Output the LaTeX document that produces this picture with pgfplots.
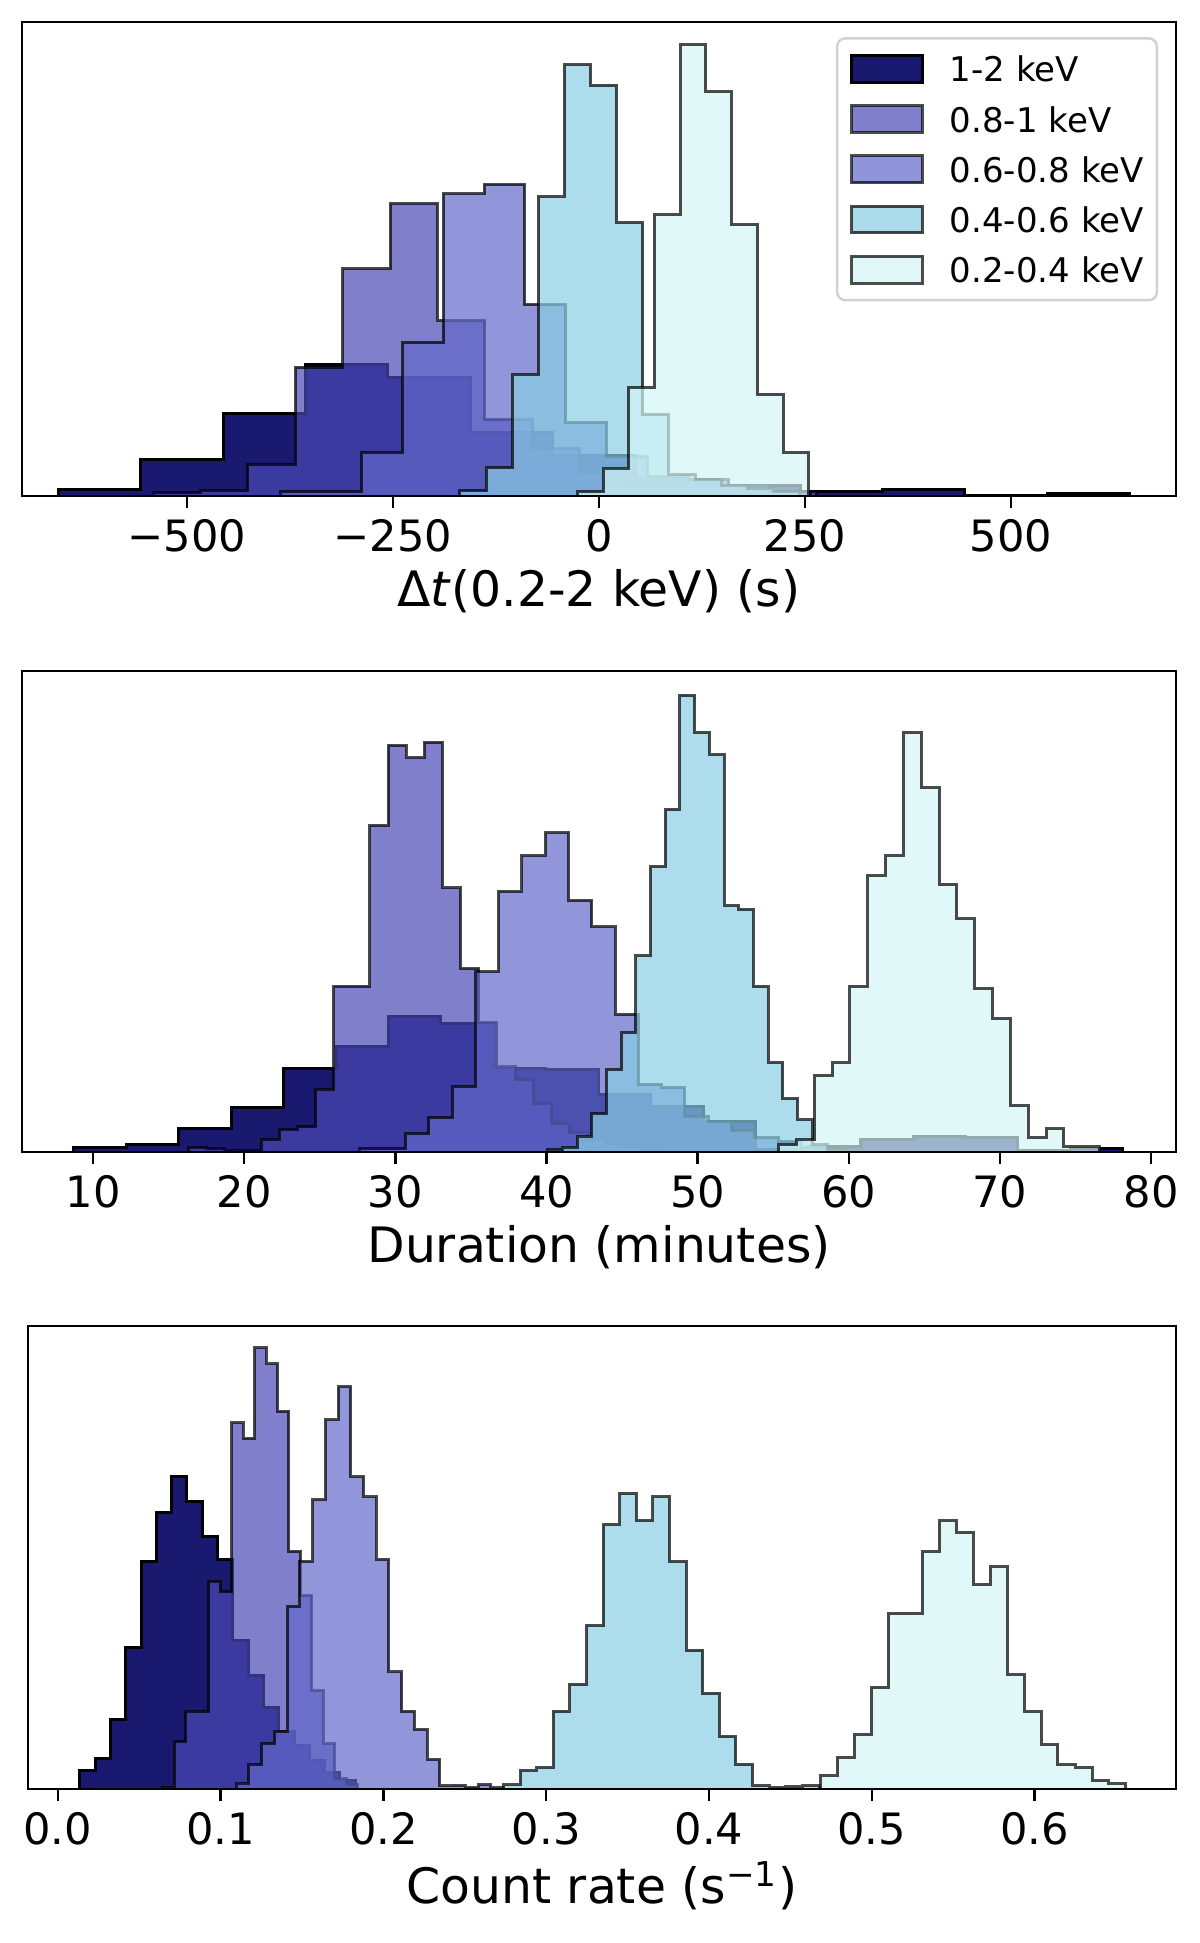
\documentclass[border=0pt]{standalone}
\usepackage{fontspec}
\setmainfont{DejaVu Sans}
\usepackage{pgfplots}
\pgfplotsset{compat=1.18}

\definecolor{c12}{HTML}{191970}
\definecolor{c081}{HTML}{4949B6}
\definecolor{c0608}{HTML}{6269CA}
\definecolor{c0406}{HTML}{8ACEE5}
\definecolor{c0204}{HTML}{D3F5F5}

\pgfplotsset{
  panel/.style={
    scale only axis, anchor=north west,
    ymin=0, ymax=100, ytick=\empty,
    axis line style={line width=0.6pt},
    xtick pos=bottom, tick align=outside,
    major tick length=3pt, tick style={line width=0.6pt, black},
    xticklabel style={font=\fontsize{10.8}{12}\selectfont, yshift=0.7pt},
    xlabel style={font=\fontsize{12.2}{14}\selectfont, at={(axis description cs:0.5,0)}, anchor=base, yshift=-27.6pt},
    axis on top,
  },
  hdark/.style={const plot, no markers, line width=0.75pt, fill=c12, draw=black},
  hsoft/.style={const plot, no markers, line width=0.75pt, fill=#1, draw=black, fill opacity=0.7, draw opacity=0.7},
}

\begin{document}
\begin{tikzpicture}
\useasboundingbox (0,0) rectangle (300pt,-485.75pt);

% time lag
\begin{axis}[panel, at={(5.5pt,-5.5pt)}, width=288.5pt, height=118.5pt,
  xmin=-700, xmax=700,
  xtick={-500,-250,0,250,500}, xticklabels={−500,−250,0,250,500},
  xlabel={Δ\textit{t}(0.2-2 keV) (s)},
  legend style={at={(rel axis cs:0.9845,0.968)}, anchor=north east,
    draw=black!18, line width=0.6pt, rounded corners=2pt,
    fill=white,
    font=\fontsize{8.5}{10}\selectfont,
    inner xsep=3.3pt, inner ysep=3.9pt, row sep=5.1pt,
    nodes={inner sep=0pt, text height=6.3pt, text depth=0pt},
    /tikz/every odd column/.append style={column sep=6.5pt}},
  legend cell align=left,
  legend image code/.code={\draw[#1, sharp corners, line width=0.75pt] (0pt,-3.25pt) rectangle (17.6pt,3.45pt);},
]
\addplot[hdark] coordinates {(-656,1.4)(-556,7.8)(-456,17.4)(-356,27.7)(-256,25.0)(-156,13.4)(-56,8.5)(44,3.5)(144,2.3)(244,0.9)(344,1.4)(444,0.2)(544,0.6)(644,0.6)} \closedcycle;
\addplot[hsoft=c081] coordinates {(-541,0.7)(-483.5,1.2)(-426,6.7)(-368.5,27.2)(-311,48.0)(-253.5,61.7)(-196,37.0)(-138.5,16.2)(-81,10.0)(-23.5,5.0)(34,2.5)(91.5,3.0)(149,2.3)(206.5,0.9)(264,0.9)} \closedcycle;
\addplot[hsoft=c0608] coordinates {(-387,0.9)(-337.5,0.9)(-288,9.2)(-238.5,32.4)(-189,63.8)(-139.5,65.8)(-90,40.5)(-40.5,15.5)(9,8.4)(58.5,4.1)(108,3.4)(157.5,2.3)(207,0.9)(256.5,0.9)} \closedcycle;
\addplot[hsoft=c0406] coordinates {(-168.7,1.1)(-137,6.0)(-105.3,25.7)(-73.6,63.1)(-41.9,91.0)(-10.2,86.7)(21.5,57.6)(53.2,17.2)(84.9,4.5)(116.6,3.4)(148.3,2.3)(180,1.6)(211.7,0.9)(243.4,0.9)} \closedcycle;
\addplot[hsoft=c0204] coordinates {(-26.2,0.9)(5,5.9)(36.2,22.9)(67.4,59.4)(98.6,95.3)(129.8,85.3)(161,57.3)(192.2,21.5)(223.4,9.1)(254.6,9.1)} \closedcycle;
\legend{1-2 keV, 0.8-1 keV, 0.6-0.8 keV, 0.4-0.6 keV, 0.2-0.4 keV}
\end{axis}

% duration
\begin{axis}[panel, at={(5.5pt,-167.75pt)}, width=288.5pt, height=120.25pt,
  xmin=5.3, xmax=81.65,
  xtick={10,20,30,40,50,60,70,80}, xticklabels={10,20,30,40,50,60,70,80},
  xlabel={Duration (minutes)},
]
\addplot[hdark] coordinates {(8.73,1.0)(12.20,1.5)(15.67,4.8)(19.14,9.3)(22.61,17.3)(26.08,21.9)(29.55,28.2)(33.02,26.7)(36.49,17.4)(39.96,17.1)(43.43,11.9)(46.90,9.5)(50.37,6.3)(53.84,0.5)(57.31,1.1)(60.78,2.7)(64.25,3.3)(67.72,3.1)(71.19,0.4)(74.66,0.7)(78.13,0.7)} \closedcycle;
\addplot[hsoft=c081] coordinates {(16.32,0.9)(17.52,0.7)(18.72,0.4)(19.92,0.3)(21.12,2.6)(22.32,4.6)(23.52,5.3)(24.72,13.0)(25.92,34.5)(27.12,34.5)(28.32,67.9)(29.52,84.6)(30.72,82.0)(31.92,85.2)(33.12,54.9)(34.32,38.2)(35.52,27.0)(36.72,17.7)(37.92,15.0)(39.12,10.0)(40.32,6.0)(41.52,4.0)(42.72,2.5)(43.92,1.5)(45.12,1.0)(46.32,0.5)(47.52,0.5)} \closedcycle;
\addplot[hsoft=c0608] coordinates {(27.60,0.7)(29.14,0.7)(30.68,3.9)(32.22,7.1)(33.76,13.7)(35.30,37.5)(36.84,54.2)(38.38,61.6)(39.92,66.4)(41.46,52.3)(43.00,46.8)(44.54,28.6)(46.08,14.1)(47.62,13.4)(49.16,7.4)(50.70,6.3)(52.24,4.5)(53.78,3.0)(55.32,2.2)(56.86,1.0)(58.40,0.6)(59.94,0.6)} \closedcycle;
\addplot[hsoft=c0406] coordinates {(40.07,0.5)(41.04,1.0)(42.02,3.3)(42.99,8.0)(43.96,17.1)(44.94,24.9)(45.91,40.8)(46.88,59.4)(47.85,71.3)(48.83,95.0)(49.80,87.2)(50.77,82.6)(51.75,51.2)(52.72,50.5)(53.69,34.5)(54.67,18.6)(55.64,11.1)(56.61,6.7)(57.58,1.5)(58.56,0.5)(59.53,0.5)} \closedcycle;
\addplot[hsoft=c0204] coordinates {(55.35,1.5)(56.53,2.6)(57.71,16.0)(58.89,18.6)(60.07,34.5)(61.25,57.5)(62.43,61.6)(63.61,87.2)(64.79,75.7)(65.97,55.7)(67.15,48.6)(68.33,34.1)(69.51,27.8)(70.69,9.7)(71.87,3.0)(73.05,4.8)(74.23,1.1)(75.41,1.1)(76.59,1.1)} \closedcycle;
\end{axis}

% count rate
\begin{axis}[panel, at={(7pt,-331.5pt)}, width=287pt, height=115.75pt,
  xmin=-0.0183, xmax=0.6869,
  xtick={0,0.1,0.2,0.3,0.4,0.5,0.6}, xticklabels={0.0,0.1,0.2,0.3,0.4,0.5,0.6},
  xlabel={Count rate (s\textsuperscript{−1})},
  xlabel style={yshift=-1pt},
]
\addplot[hdark] coordinates {(0.0136,4.0)(0.0230,6.6)(0.0324,15.1)(0.0418,30.6)(0.0512,49.2)(0.0606,59.8)(0.0699,67.4)(0.0793,62.1)(0.0887,54.5)(0.0981,49.6)(0.1075,32.1)(0.1169,24.6)(0.1263,17.7)(0.1357,12.4)(0.1451,9.3)(0.1545,6.2)(0.1638,3.5)(0.1732,1.8)(0.1826,1.8)} \closedcycle;
\addplot[hsoft=c081] coordinates {(0.0646,0.4)(0.0716,10.2)(0.0787,16.8)(0.0857,16.8)(0.0928,44.8)(0.0998,42.6)(0.1068,79.1)(0.1139,75.8)(0.1209,95.3)(0.1280,91.8)(0.1350,81.6)(0.1420,51.4)(0.1491,41.9)(0.1561,21.3)(0.1632,9.8)(0.1702,2.2)(0.1772,0.9)(0.1843,0.9)} \closedcycle;
\addplot[hsoft=c0608] coordinates {(0.1096,1.3)(0.1174,5.3)(0.1252,9.8)(0.1331,12.4)(0.1409,39.5)(0.1487,49.2)(0.1565,62.5)(0.1643,79.8)(0.1722,86.9)(0.1800,67.4)(0.1878,63.1)(0.1956,49.6)(0.2034,25.3)(0.2113,16.8)(0.2191,12.9)(0.2269,6.4)(0.2347,0.7)(0.2425,0.8)(0.2504,0.4)(0.2582,0.9)(0.2660,0.3)(0.2738,0.3)} \closedcycle;
\addplot[hsoft=c0406] coordinates {(0.2738,0.9)(0.2840,4.0)(0.2942,4.6)(0.3044,16.8)(0.3146,22.6)(0.3248,35.3)(0.3350,57.1)(0.3452,63.8)(0.3554,58.0)(0.3656,63.1)(0.3758,49.1)(0.3860,30.0)(0.3962,20.7)(0.4064,11.4)(0.4166,5.3)(0.4268,0.7)(0.4370,0.4)(0.4472,0.5)(0.4574,0.7)(0.4676,0.7)} \closedcycle;
\addplot[hsoft=c0204] coordinates {(0.4684,2.9)(0.4788,6.9)(0.4893,11.8)(0.4997,22.0)(0.5101,38.0)(0.5206,38.0)(0.5310,51.2)(0.5414,58.0)(0.5518,55.3)(0.5623,44.2)(0.5727,48.0)(0.5831,24.7)(0.5936,16.7)(0.6040,9.6)(0.6144,5.3)(0.6249,4.7)(0.6353,1.8)(0.6457,1.2)(0.6561,1.2)} \closedcycle;
\end{axis}
\end{tikzpicture}
\end{document}
